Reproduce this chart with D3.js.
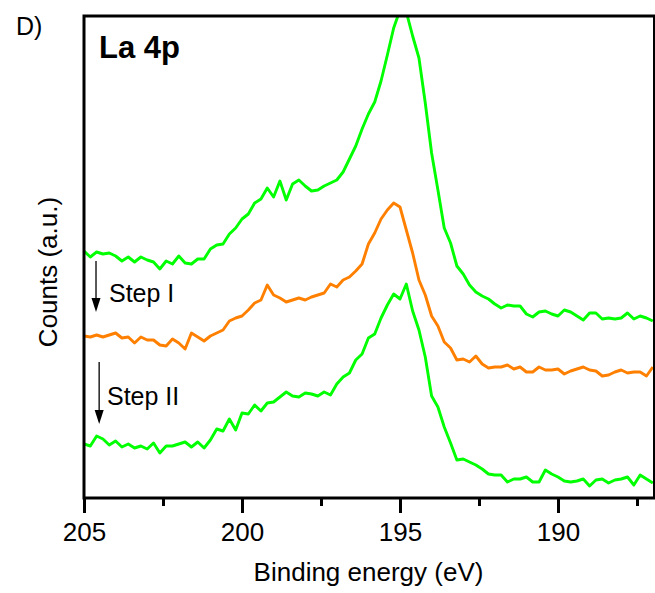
<!DOCTYPE html>
<html>
<head>
<meta charset="utf-8">
<script src="https://cdn.jsdelivr.net/npm/d3@7"></script>
<style>
  body { margin: 0; background: #fff; }
  svg { display: block; font-family: "Liberation Sans", Arial, sans-serif; }
</style>
</head>
<body>
<svg id="chart" width="655" height="593"></svg>
<script>
// energy grid of the scan, 205 -> 187 eV in 0.2 eV steps
const energy = d3.range(0, 91).map((i) => +(205 - 0.2 * i).toFixed(1));

// counts (a.u.)
const asPrepared = [
  247, 241, 246, 244, 245, 242, 237, 241, 236, 241, 238, 236, 229, 237, 234, 242,
  235, 234, 239, 239, 249, 253, 254, 264, 270, 279, 284, 295, 299, 310, 301, 317,
  298, 314, 318, 312, 307, 308, 312, 315, 318, 326, 339, 352, 369, 384, 396, 417,
  443, 470, 488, 486, 462, 440, 395, 345, 308, 270, 255, 232, 224, 213, 206, 202,
  199, 194, 190, 193, 192, 192, 184, 181, 186, 187, 184, 182, 188, 186, 182, 178,
  185, 185, 179, 180, 179, 180, 185, 179, 182, 180, 177,
];
const stepI = [
  162, 161, 163, 161, 163, 165, 160, 161, 155, 161, 158, 158, 153, 152, 159, 155,
  149, 165, 161, 157, 162, 165, 168, 177, 180, 182, 188, 195, 198, 213, 203, 200,
  196, 198, 200, 198, 201, 203, 205, 214, 211, 218, 221, 227, 234, 254, 265, 279,
  288, 295, 291, 268, 245, 218, 203, 182, 172, 156, 150, 138, 139, 136, 142, 134,
  130, 131, 131, 133, 129, 131, 126, 126, 131, 128, 128, 129, 124, 127, 129, 131,
  128, 127, 122, 123, 126, 128, 125, 126, 126, 122, 131,
];
const stepII = [
  54, 52, 62, 59, 53, 57, 51, 54, 50, 52, 49, 55, 45, 52, 52, 54,
  56, 51, 56, 50, 58, 69, 67, 79, 68, 85, 84, 93, 87, 95, 96, 101,
  106, 102, 101, 105, 104, 102, 106, 103, 114, 121, 125, 138, 144, 160, 164, 180,
  193, 204, 199, 214, 187, 168, 141, 102, 91, 71, 55, 38, 39, 36, 33, 29,
  24, 23, 23, 16, 19, 19, 21, 16, 16, 28, 24, 21, 17, 16, 17, 19,
  12, 18, 19, 15, 18, 19, 21, 13, 23, 19, 15,
];

const majorTicks = [205, 200, 195, 190];
const minorTicks = [202.5, 197.5, 192.5, 187.5];

const series = [
  { name: "as prepared", values: asPrepared, color: "#00ff00" },
  { name: "Step I", values: stepI, color: "#ff8000" },
  { name: "Step II", values: stepII, color: "#00ff00" },
];

const svg = d3.select("#chart");
const margin = { top: 16, right: 2, bottom: 95, left: 84 };
const width = 655;
const height = 593;

const x = d3
  .scaleLinear()
  .domain([205, 187])
  .range([margin.left, 652.8]);

const y = d3
  .scaleLinear()
  .domain([0, 482])
  .range([height - margin.bottom, margin.top]);

svg
  .append("clipPath")
  .attr("id", "plot-clip")
  .append("rect")
  .attr("x", margin.left)
  .attr("y", margin.top)
  .attr("width", width - margin.left)
  .attr("height", height - margin.bottom - margin.top);

const line = d3
  .line()
  .x((d, i) => x(energy[i]))
  .y((d) => y(d));

svg
  .append("g")
  .attr("clip-path", "url(#plot-clip)")
  .selectAll("path")
  .data(series)
  .join("path")
  .attr("fill", "none")
  .attr("stroke", (d) => d.color)
  .attr("stroke-width", 2.9)
  .attr("stroke-linejoin", "round")
  .attr("d", (d) => line(d.values));

// minor ticks
svg
  .append("g")
  .attr("transform", `translate(0,${height - margin.bottom})`)
  .call(d3.axisBottom(x).tickValues(minorTicks).tickSize(8).tickFormat(""))
  .call((g) => g.select(".domain").remove())
  .call((g) => g.selectAll(".tick line").attr("stroke", "#000").attr("stroke-width", 3));

// major ticks + labels
svg
  .append("g")
  .attr("transform", `translate(0,${height - margin.bottom})`)
  .call(d3.axisBottom(x).tickValues(majorTicks).tickSize(15).tickPadding(10))
  .call((g) => g.select(".domain").remove())
  .call((g) => g.selectAll(".tick line").attr("stroke", "#000").attr("stroke-width", 3))
  .call((g) =>
    g
      .selectAll(".tick text")
      .attr("fill", "#000")
      .attr("font-size", 26)
      .attr("font-family", "Liberation Sans, Arial, sans-serif")
  );

// frame
svg
  .append("rect")
  .attr("x", margin.left)
  .attr("y", margin.top)
  .attr("width", 654.5 - margin.left)
  .attr("height", height - margin.bottom - margin.top)
  .attr("fill", "none")
  .attr("stroke", "#000")
  .attr("stroke-width", 3);

// titles
svg
  .append("text")
  .attr("x", (margin.left + 653) / 2)
  .attr("y", 581)
  .attr("text-anchor", "middle")
  .attr("font-size", 26)
  .text("Binding energy (eV)");

svg
  .append("text")
  .attr("transform", "translate(57,272) rotate(-90)")
  .attr("text-anchor", "middle")
  .attr("font-size", 26)
  .text("Counts (a.u.)");

svg.append("text").attr("x", 16).attr("y", 35).attr("font-size", 25).text("D)");

svg
  .append("text")
  .attr("x", 99)
  .attr("y", 58)
  .attr("font-size", 31)
  .attr("font-weight", "bold")
  .text("La 4p");

// step arrows
const arrows = [
  { label: "Step I", e: 204.62, y0: 261, y1: 312, tx: 109, ty: 302 },
  { label: "Step II", e: 204.52, y0: 362, y1: 424, tx: 107, ty: 405 },
];

arrows.forEach((a) => {
  const ax = x(a.e);
  svg
    .append("line")
    .attr("x1", ax)
    .attr("x2", ax)
    .attr("y1", a.y0)
    .attr("y2", a.y1 - 10)
    .attr("stroke", "#222")
    .attr("stroke-width", 1.5);
  svg
    .append("path")
    .attr("d", `M${ax - 4.5},${a.y1 - 14}L${ax + 4.5},${a.y1 - 14}L${ax},${a.y1}Z`)
    .attr("fill", "#000");
  svg
    .append("text")
    .attr("x", a.tx)
    .attr("y", a.ty)
    .attr("font-size", 25)
    .text(a.label);
});
</script>
</body>
</html>
